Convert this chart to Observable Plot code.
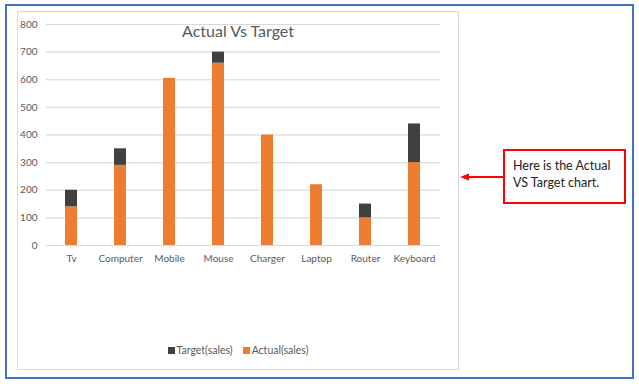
<!DOCTYPE html>
<html><head><meta charset="utf-8">
<script src="https://cdn.jsdelivr.net/npm/d3@7"></script>
<script src="https://cdn.jsdelivr.net/npm/@observablehq/plot@0.6"></script>
<style>
html,body{margin:0;padding:0;background:#fff;}
#wrap{position:relative;width:639px;height:386px;overflow:hidden;font-family:Lato,"Open Sans",sans-serif;}
#outer{position:absolute;left:5px;top:4px;width:625px;height:371px;border:2px solid #4472C4;}
#panel{position:absolute;left:17px;top:11px;width:440px;height:357px;border:1px solid #d9d9d9;}
#chart{position:absolute;left:0;top:0;}
#title{position:absolute;left:0;width:476px;top:21px;text-align:center;font-size:16px;color:#595959;}
#legend{position:absolute;top:344px;left:0;width:476px;text-align:center;font-size:10.5px;color:#595959;}
#legend span.sw{display:inline-block;width:7px;height:7px;margin-right:2px;vertical-align:0px;}
#legend span.it{margin:0 5px;}
#callout{position:absolute;left:503px;top:149px;width:119px;height:51px;border:2px solid #ff0000;font-size:12.5px;color:#222;line-height:17px;padding:0;}
#callout div{position:absolute;left:8px;top:6px;white-space:nowrap;}
#arrow{position:absolute;left:0;top:0;}
</style></head>
<body><div id="wrap">
<div id="outer"></div>
<div id="panel"></div>
<div id="chart"></div>
<div id="title">Actual Vs Target</div>
<div id="legend"></div>
<svg id="arrow" width="639" height="386"><line x1="503" y1="177" x2="468" y2="177" stroke="#ff0000" stroke-width="2"/><polygon points="460,177 469,173.5 469,180.5" fill="#ff0000"/></svg>
<div id="callout"><div>Here is the Actual<br>VS Target chart.</div></div>
</div>
<script>
const categories = ["Tv","Computer","Mobile","Mouse","Charger","Laptop","Router","Keyboard"];
const actual = [140, 290, 605, 660, 400, 220, 100, 300];
const target = [200, 350, 600, 700, 400, 220, 150, 440];
const yTicks = [0,100,200,300,400,500,600,700,800];
const seriesNames = ["Target(sales)","Actual(sales)"];
const seriesColors = ["#404040","#ED7D31"];

const rows = categories.map((c,i)=>({cat:c, actual:actual[i], target:target[i]}));
const gap = rows.filter(d=>d.target>d.actual);

const chart = Plot.plot({
  width:639, height:386,
  marginLeft:46, marginRight:199, marginTop:24, marginBottom:141,
  style:{fontFamily:"Lato, 'Open Sans', sans-serif", fontSize:"10px", color:"#595959", background:"transparent"},
  x:{domain:categories, paddingInner:0.75, paddingOuter:0.375, label:null, tickSize:0, tickPadding:9},
  y:{domain:[0,800], ticks:yTicks, label:null, tickSize:0, tickPadding:9, grid:true},
  marks:[
    Plot.gridY(yTicks,{stroke:"#d9d9d9", strokeOpacity:1}),
    Plot.barY(rows,{x:"cat", y:"actual", fill:seriesColors[1]}),
    Plot.barY(gap,{x:"cat", y1:"actual", y2:"target", fill:seriesColors[0]}),
    Plot.axisX({tickSize:0, tickPadding:9, fill:"#595959", fontSize:10}),
    Plot.axisY({ticks:yTicks, tickSize:0, tickPadding:9, fill:"#595959", fontSize:10})
  ]
});
document.getElementById("chart").appendChild(chart);

const leg = document.getElementById("legend");
leg.innerHTML = seriesNames.map((n,i)=>`<span class="it"><span class="sw" style="background:${seriesColors[i]}"></span>${n}</span>`).join("");
</script>
</body></html>
